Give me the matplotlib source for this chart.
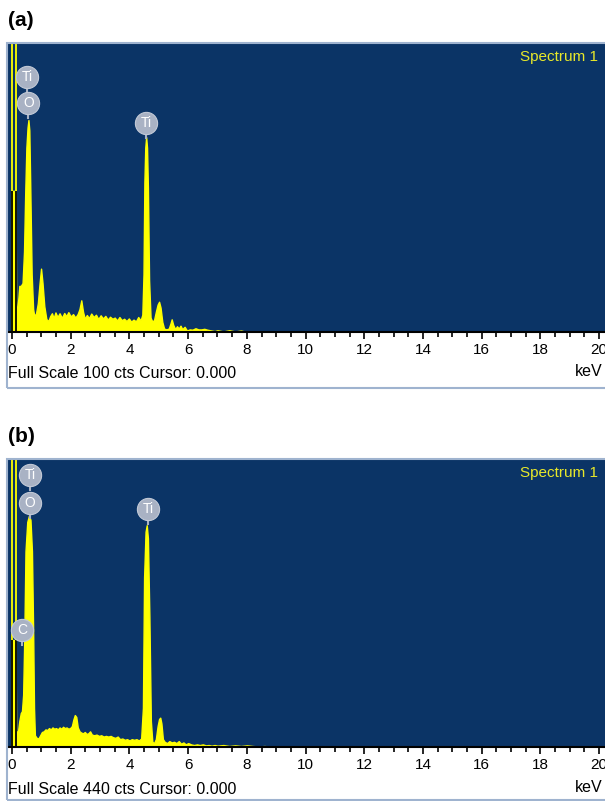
import numpy as np
import matplotlib
matplotlib.use('Agg')
import matplotlib.pyplot as plt
from matplotlib.patches import Rectangle
from matplotlib.ticker import MultipleLocator

plt.rcParams['font.family'] = ['Liberation Sans', 'DejaVu Sans']

W, H = 605, 801
bg = '#0b3466'
yellow = '#ffff00'

## spectrum (a), full scale 100 cts
energy_a = [0.00, 0.12, 0.14, 0.18, 0.22, 0.25, 0.30, 0.36, 0.41, 0.45, 0.49, 0.53, 0.56, 0.59, 0.62,
            0.67, 0.72, 0.76, 0.82, 0.88, 0.94, 0.99, 1.04, 1.10, 1.17, 1.24, 1.30, 1.36, 1.42,
            1.48, 1.55, 1.62, 1.70, 1.78, 1.85, 1.92, 2.00, 2.08, 2.16, 2.24, 2.30, 2.36, 2.42,
            2.48, 2.55, 2.62, 2.70, 2.78, 2.86, 2.94, 3.02, 3.10, 3.18, 3.26, 3.34, 3.42, 3.50,
            3.58, 3.66, 3.74, 3.82, 3.90, 3.98, 4.06, 4.14, 4.22, 4.30, 4.38, 4.44, 4.48, 4.51,
            4.54, 4.57, 4.60, 4.63, 4.67, 4.72, 4.78, 4.84, 4.90, 4.96, 5.01, 5.06, 5.12, 5.18, 5.26, 5.34,
            5.40, 5.44, 5.49, 5.56, 5.62, 5.68, 5.74, 5.80, 5.88, 5.96, 6.05, 6.15, 6.25, 6.35,
            6.45, 6.55, 6.65, 6.75, 6.90, 7.00, 7.20, 7.40, 7.60, 7.80, 8.00, 20.2]
counts_a = [49, 49, 9, 8, 12, 16, 16, 17, 28, 48, 64, 71, 73.6, 70, 52,
            20, 8, 5.5, 6.5, 10, 17, 22, 17, 9, 4.5, 3.8, 5.5, 6.5, 4.8,
            6.8, 5.2, 6.5, 4.9, 6.6, 5.5, 6.9, 5.4, 6.2, 5.0, 6.3, 8, 11, 7,
            4.6, 5.9, 4.8, 6.4, 5.2, 6.0, 4.5, 5.8, 4.7, 5.6, 4.3, 5.3, 4.6, 5.0,
            4.0, 5.2, 4.1, 4.6, 3.8, 4.7, 3.6, 4.3, 3.7, 5.2, 4.0, 6, 20, 52,
            64, 67.7, 64, 50, 18, 5, 3.6, 4.2, 7, 9.5, 10.5, 8.5, 3.5, 1.2, 0.9, 1.2,
            3.0, 4.4, 2.5, 1.0, 2.0, 1.2, 2.2, 1.0, 1.8, 0.5, 0.9, 0.8, 1.3, 0.9,
            0.9, 1.1, 0.8, 0.6, 0.3, 0.6, 0.2, 0.6, 0.2, 0.5, 0.0, 0.0]

## spectrum (b), full scale 440 cts
energy_b = [0.00, 0.12, 0.14, 0.20, 0.25, 0.30, 0.34, 0.38, 0.42, 0.46, 0.52, 0.58, 0.63, 0.68,
            0.72, 0.75, 0.78, 0.84, 0.90, 0.96, 1.02, 1.08, 1.14, 1.20, 1.26, 1.32, 1.38, 1.44,
            1.50, 1.56, 1.62, 1.68, 1.74, 1.80, 1.86, 1.92, 1.98, 2.04, 2.09, 2.14, 2.19, 2.24,
            2.30, 2.36, 2.42, 2.48, 2.54, 2.60, 2.66, 2.72, 2.80, 2.88, 2.96, 3.04, 3.12, 3.20,
            3.28, 3.36, 3.44, 3.52, 3.60, 3.68, 3.76, 3.84, 3.92, 4.00, 4.08, 4.16, 4.24, 4.32,
            4.40, 4.46, 4.50, 4.55, 4.59, 4.63, 4.68, 4.73, 4.78, 4.84, 4.90, 4.96, 5.01, 5.05,
            5.09, 5.14, 5.20, 5.28, 5.36, 5.44, 5.52, 5.60, 5.68, 5.76, 5.84, 5.92, 6.00, 6.10,
            6.20, 6.30, 6.40, 6.50, 6.60, 6.70, 6.80, 6.90, 7.00, 7.20, 7.40, 7.60, 7.80, 8.00,
            8.20, 8.40, 8.60, 8.80, 9.00, 20.2]
counts_b = [164, 164, 25, 22, 40, 52, 55, 80, 170, 300, 345, 355, 348, 300,
            180, 60, 18, 14, 13, 18, 23, 24, 27, 26, 29, 27, 30, 28,
            29, 27, 30, 28, 31, 29, 30, 28, 29, 32, 42, 49, 46, 30,
            24, 22, 21, 23, 20, 21, 24, 19, 18, 19, 17, 18, 16, 17,
            16, 17, 15, 14, 16, 12, 13, 11, 12, 10, 12, 11, 12, 10,
            13, 60, 260, 330, 340, 320, 200, 40, 8, 6, 12, 32, 43, 45,
            36, 12, 8, 6, 9, 7, 8, 6, 9, 5, 7, 4, 6, 4,
            3, 4, 3, 4, 2.5, 3, 2, 3, 2, 3, 1.5, 2.5, 1.5, 2.5,
            1.5, 0.8, 1.5, 0.5, 0, 0]

## element labels (energy, counts position)
labels_a = ['Ti', 'O', 'Ti']
label_e_a = [0.51, 0.56, 4.57]
label_c_a = [88.5, 79.5, 72.6]
labels_b = ['Ti', 'O', 'Ti', 'C']
label_e_b = [0.61, 0.61, 4.63, 0.34]
label_c_b = [417, 374, 365, 179]

cursor_e = [0.01, 0.14]

fig = plt.figure(figsize=(W / 100, H / 100), dpi=100)
fig.patch.set_facecolor('white')


def panel(top, bottom, letter, energy, counts, full, labels, lab_e, lab_c, zero_h):
    ax = fig.add_axes([8 / W, 1 - bottom / H, 597 / W, (bottom - top) / H])
    ax.set_facecolor(bg)
    ax.fill_between(energy, counts, 0, color=yellow, lw=1.0, edgecolor=yellow)
    for e in cursor_e:
        ax.axvline(e, color=yellow, lw=1.3)
        ax.vlines(e, 0, zero_h, color='black', lw=1.3)
    ax.set_xlim(-0.136, 20.2)
    ax.set_ylim(0, full)
    px = full / (bottom - top)
    for name, e, c in zip(labels, lab_e, lab_c):
        ax.plot([e, e], [c, c - 15 * px], color='#a9b2c4', lw=1.5, zorder=4)
        ax.plot(e, c, 'o', ms=16, color='#a9b2c4', mec='#c2c9d6', mew=0.8, zorder=5)
        ax.text(e, c, name, color='white', fontsize=10, ha='center', va='center', zorder=6)
    for s in ['top', 'left', 'right']:
        ax.spines[s].set_visible(False)
    ax.spines['bottom'].set_color('black')
    ax.spines['bottom'].set_linewidth(1.5)
    ax.set_yticks([])
    ax.xaxis.set_major_locator(MultipleLocator(2))
    ax.xaxis.set_minor_locator(MultipleLocator(0.5))
    ax.tick_params(axis='x', which='major', length=5, width=1.2, pad=3, labelsize=11, color='black')
    ax.tick_params(axis='x', which='minor', length=3.5, width=1.2, color='black')
    ax.set_xticklabels([str(int(v)) for v in ax.get_xticks()])
    ax.text(0.988, 0.955, 'Spectrum 1', transform=ax.transAxes, color='#e8e82a',
            fontsize=11, ha='right', va='center')

    box_bottom = bottom + 56 if bottom + 56 < H else H - 1
    fig.add_artist(Rectangle((7 / W, 1 - box_bottom / H), 600 / W, (box_bottom - top + 1) / H,
                             transform=fig.transFigure, fill=False, edgecolor='#9fb3cf', lw=1.5))
    fig.text(8 / W, 1 - (bottom + 42) / H, 'Full Scale %d cts Cursor: 0.000' % full,
             fontsize=11.5, ha='left', va='center')
    fig.text(603 / W, 1 - (bottom + 40) / H, 'keV', fontsize=11.5, ha='right', va='center')
    fig.text(8 / W, 1 - (top - 23) / H, letter, fontsize=15, fontweight='bold', ha='left', va='center')
    return ax


panel(44, 332, '(a)', energy_a, counts_a, 100, labels_a, label_e_a, label_c_a, 49)
panel(460, 747, '(b)', energy_b, counts_b, 440, labels_b, label_e_b, label_c_b, 164)

fig.savefig('out.png', dpi=100)
